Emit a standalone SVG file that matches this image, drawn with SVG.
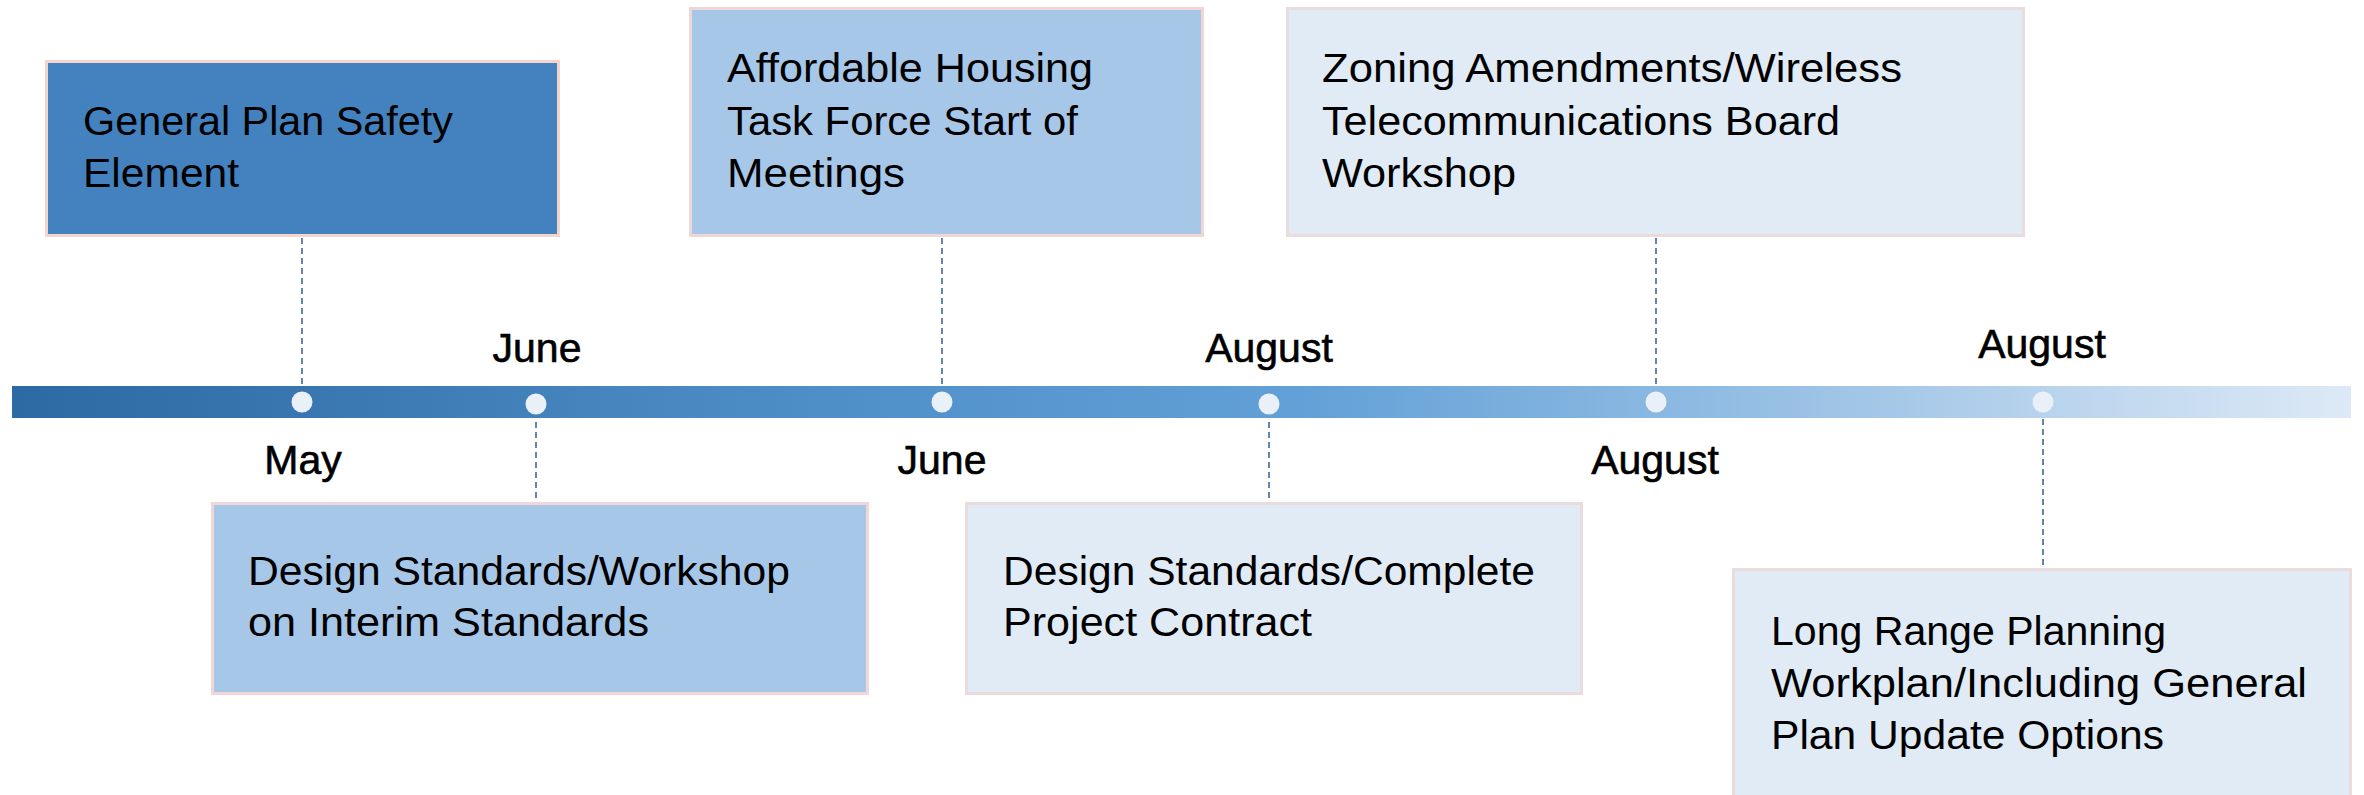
<svg xmlns="http://www.w3.org/2000/svg" width="2364" height="795" viewBox="0 0 2364 795">
<defs>
<linearGradient id="barGrad" x1="0" y1="0" x2="1" y2="0">
<stop offset="0" stop-color="#2D69A3"/>
<stop offset="0.35" stop-color="#4F8FC8"/>
<stop offset="0.55" stop-color="#62A0D7"/>
<stop offset="0.75" stop-color="#96BFE4"/>
<stop offset="1" stop-color="#DDE9F6"/>
</linearGradient>
</defs>
<style>
.box{stroke-width:3}
.dark{fill:#4382BE;stroke:#F4D4CC}
.mid{fill:#A7C7E8;stroke:#F0D6D6}
.light{fill:#E1EBF6;stroke:#EADCDC}
.t{font-family:"Liberation Sans",Arial,sans-serif;font-size:41px;fill:#000}
.m{font-family:"Liberation Sans",Arial,sans-serif;font-size:41px;fill:#000;stroke:#000;stroke-width:0.6;text-anchor:middle}
.dash{stroke:#2F5F93;stroke-width:1.5;stroke-dasharray:6 4;fill:none}
.dot{fill:#EAF0F8}
</style>
<rect id="timeline" x="12" y="386" width="2339" height="32" fill="url(#barGrad)"/>
<g id="connectors">
<line class="dash" x1="302" y1="238" x2="302" y2="384"/>
<line class="dash" x1="536" y1="422" x2="536" y2="502"/>
<line class="dash" x1="942" y1="238" x2="942" y2="384"/>
<line class="dash" x1="1269" y1="422" x2="1269" y2="502"/>
<line class="dash" x1="1656" y1="238" x2="1656" y2="384"/>
<line class="dash" x1="2043" y1="419" x2="2043" y2="568"/>
</g>
<g id="dots">
<circle class="dot" cx="302" cy="402" r="10.5"/>
<circle class="dot" cx="536" cy="404" r="10.5"/>
<circle class="dot" cx="942" cy="402" r="10.5"/>
<circle class="dot" cx="1269" cy="404" r="10.5"/>
<circle class="dot" cx="1656" cy="402" r="10.5"/>
<circle class="dot" cx="2043" cy="402" r="10.5"/>
</g>
<g id="labels">
<text class="m" x="303" y="474">May</text>
<text class="m" x="537" y="362">June</text>
<text class="m" x="942" y="474">June</text>
<text class="m" x="1269" y="362">August</text>
<text class="m" x="1655" y="474">August</text>
<text class="m" x="2042" y="358">August</text>
</g>
<g id="node1">
<rect class="box dark" x="46.5" y="61.5" width="512" height="174"/>
<text class="t" x="83" y="135" textLength="370" lengthAdjust="spacingAndGlyphs">General Plan Safety</text>
<text class="t" x="83" y="187" textLength="156" lengthAdjust="spacingAndGlyphs">Element</text>
</g>
<g id="node2">
<rect class="box mid" x="212.5" y="503.5" width="655" height="190"/>
<text class="t" x="248" y="585" textLength="542" lengthAdjust="spacingAndGlyphs">Design Standards/Workshop</text>
<text class="t" x="248" y="636" textLength="401" lengthAdjust="spacingAndGlyphs">on Interim Standards</text>
</g>
<g id="node3">
<rect class="box mid" x="690.5" y="8.5" width="512" height="227"/>
<text class="t" x="727" y="82" textLength="366" lengthAdjust="spacingAndGlyphs">Affordable Housing</text>
<text class="t" x="727" y="135" textLength="351" lengthAdjust="spacingAndGlyphs">Task Force Start of</text>
<text class="t" x="727" y="187" textLength="178" lengthAdjust="spacingAndGlyphs">Meetings</text>
</g>
<g id="node4">
<rect class="box light" x="1287.5" y="8.5" width="736" height="227"/>
<text class="t" x="1322" y="82" textLength="580" lengthAdjust="spacingAndGlyphs">Zoning Amendments/Wireless</text>
<text class="t" x="1322" y="135" textLength="518" lengthAdjust="spacingAndGlyphs">Telecommunications Board</text>
<text class="t" x="1322" y="187" textLength="194" lengthAdjust="spacingAndGlyphs">Workshop</text>
</g>
<g id="node5">
<rect class="box light" x="966.5" y="503.5" width="615" height="190"/>
<text class="t" x="1003" y="585" textLength="532" lengthAdjust="spacingAndGlyphs">Design Standards/Complete</text>
<text class="t" x="1003" y="636" textLength="309" lengthAdjust="spacingAndGlyphs">Project Contract</text>
</g>
<g id="node6">
<rect class="box light" x="1733.5" y="569.5" width="617" height="240"/>
<text class="t" x="1771" y="645" textLength="395" lengthAdjust="spacingAndGlyphs">Long Range Planning</text>
<text class="t" x="1771" y="697" textLength="536" lengthAdjust="spacingAndGlyphs">Workplan/Including General</text>
<text class="t" x="1771" y="749" textLength="393" lengthAdjust="spacingAndGlyphs">Plan Update Options</text>
</g>
</svg>
